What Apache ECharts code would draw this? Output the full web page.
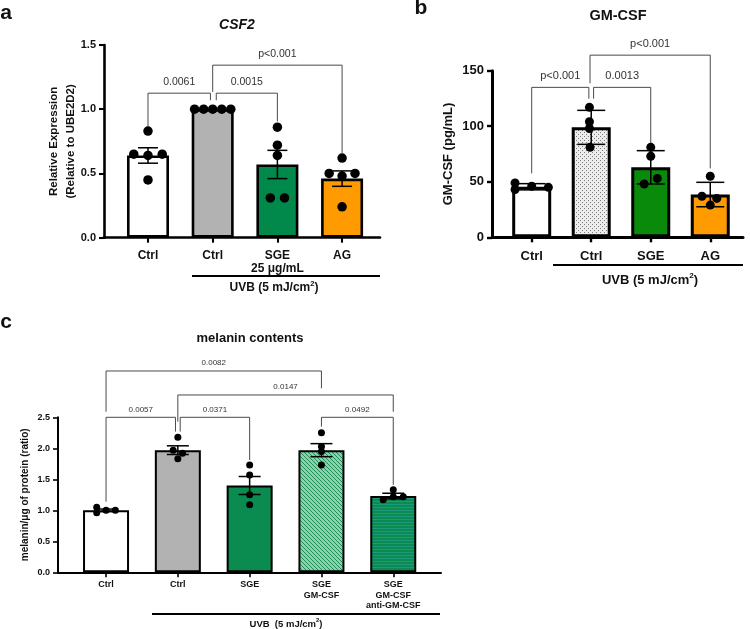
<!DOCTYPE html>
<html>
<head>
<meta charset="utf-8">
<script src="https://cdn.jsdelivr.net/npm/echarts@6/dist/echarts.min.js"></script>
<style>
  html, body { margin: 0; padding: 0; background: #fff; }
  #chart { width: 750px; height: 629px; }
</style>
</head>
<body>
<div id="chart"></div>
<script>
// ---- panel a: CSF2 qPCR ----
const aCats = ['Ctrl', 'Ctrl', 'SGE\n25 μg/mL', 'AG']
const aMeans = [0.64, 1.0, 0.57, 0.46]
const aErr = [0.06, 0.0, 0.11, 0.06]
const aDots = [[0.83, 0.65, 0.64, 0.65, 0.45], [1, 1, 1, 1, 1], [0.86, 0.72, 0.64, 0.31, 0.31], [0.62, 0.50, 0.48, 0.50, 0.24]]
const aJitter = [[0, -0.22, 0, 0.22, 0], [-0.28, -0.14, 0, 0.14, 0.28], [0, 0, 0, -0.11, 0.11], [0, -0.2, 0, 0.2, 0]]
const aPvals = ['0.0061', '0.0015', 'p<0.001']
// [x1, x2, top, leg1 end, leg2 end]
const aBrackets = [[0, 0.965, 1.125, 0.865, 1.07], [1.055, 2, 1.125, 1.07, 0.905], [1, 3, 1.343, 1.135, 0.66]]

// ---- panel b: GM-CSF ELISA ----
const bCats = ['Ctrl', 'Ctrl', 'SGE', 'AG']
const bMeans = [45.5, 99, 63, 38.5]
const bErr = [2.8, 15.3, 15, 11]
const bDots = [[49, 43, 46, 45], [117, 104, 98, 81], [81, 73, 48, 53], [55, 37, 35, 29]]
const bJitter = [[-0.28, -0.28, 0, 0.28], [-0.03, -0.03, -0.03, -0.02], [0, 0, -0.11, 0.11], [0, -0.14, 0.11, 0]]
const bPvals = ['p<0.001', '0.0013', 'p<0.001']
const bBrackets = [[0, 0.96, 135, 57.6, 124.8], [1.04, 2, 135, 124.8, 84], [0.98, 3, 164, 138.6, 62]]

// ---- panel c: melanin contents ----
const cCats = ['Ctrl', 'Ctrl', 'SGE', 'SGE\nGM-CSF', 'SGE\nGM-CSF\nanti-GM-CSF']
const cMeans = [1.0, 1.97, 1.40, 1.97, 1.23]
const cErr = [0.02, 0.07, 0.145, 0.105, 0.045]
const cDots = [[1.05, 0.96, 1.0, 1.0], [2.18, 1.97, 1.92, 1.83], [1.73, 1.57, 1.25, 1.09], [2.25, 2.03, 1.95, 1.73], [1.33, 1.17, 1.22, 1.22]]
const cJitter = [[-0.13, -0.13, 0, 0.13], [0, -0.065, 0.065, 0], [0, 0, 0, 0], [0, 0, 0, 0], [0, -0.14, 0, 0.14]]
const cPvals = ['0.0057', '0.0371', '0.0082', '0.0147', '0.0492']
const cBrackets = [[0, 0.967, 2.5, 1.14, 2.27], [1.033, 2, 2.5, 2.27, 1.81], [0, 3, 3.247, 2.59, 2.968], [1, 4, 2.86, 2.43, 2.59], [3, 4, 2.5, 2.35, 1.41]]

const FONT = '"Liberation Sans", Arial, Helvetica, sans-serif'

function pattern(w, h, draw) {
  const cv = document.createElement('canvas')
  cv.width = w; cv.height = h
  draw(cv.getContext('2d'))
  return { image: cv, repeat: 'repeat' }
}

const stipple = pattern(4, 4, (g) => {
  g.fillStyle = '#ececec'; g.fillRect(0, 0, 4, 4)
  g.fillStyle = '#7a7a7a'; g.fillRect(0, 0, 1, 1); g.fillRect(2, 2, 1, 1)
})
const hatch = pattern(4, 4, (g) => {
  g.fillStyle = '#8fd0ab'; g.fillRect(0, 0, 4, 4)
  g.fillStyle = '#1b8f58'
  for (let i = 0; i < 4; i++) g.fillRect(i, i, 1, 1)
})
const hstripe = pattern(4, 3, (g) => {
  g.fillStyle = '#0b8a52'; g.fillRect(0, 0, 4, 3)
  g.fillStyle = '#1a9a7a'; g.fillRect(0, 0, 4, 1)
})

const aColors = ['#ffffff', '#b2b2b2', '#00894b', '#ff9a00']
const bColors = ['#ffffff', stipple, '#0a8a0a', '#ff9a00']
const cColors = ['#ffffff', '#b2b2b2', '#0a8c50', hatch, hstripe]

const panels = [
  { cats: aCats, means: aMeans, err: aErr, dots: aDots, jitter: aJitter, pvals: aPvals, brackets: aBrackets, colors: aColors,
    grid: { left: 104, top: 45, width: 276, height: 192.7 }, xMin: -0.68, xMax: 3.586, yMax: 1.5, yInt: 0.5, dec: 1,
    barW: 42, border: 2.6, axisW: 2.6, cap: 10, dot: 9.5, tickFont: 11, catFont: 12, catLH: 12.5, catMargin: 12,
    pFont: 10.5, pGap: 11, yName: 'Relative Expression\n(Relative to UBE2D2)', yNameFont: 11.5, yNameGap: 25 },
  { cats: bCats, means: bMeans, err: bErr, dots: bDots, jitter: bJitter, pvals: bPvals, brackets: bBrackets, colors: bColors,
    grid: { left: 492, top: 70.7, width: 251, height: 166.6 }, xMin: -0.667, xMax: 3.55, yMax: 150, yInt: 50, dec: 0,
    barW: 39, border: 3, axisW: 3, cap: 14, dot: 9, tickFont: 13, catFont: 13, catLH: 15, catMargin: 12,
    pFont: 11, pGap: 11, yName: 'GM-CSF (pg/mL)', yNameFont: 13, yNameGap: 34 },
  { cats: cCats, means: cMeans, err: cErr, dots: cDots, jitter: cJitter, pvals: cPvals, brackets: cBrackets, colors: cColors,
    grid: { left: 58, top: 417.3, width: 383, height: 155 }, xMin: -0.669, xMax: 4.665, yMax: 2.5, yInt: 0.5, dec: 1,
    barW: 46, border: 2, axisW: 2, cap: 11, dot: 7, tickFont: 9, catFont: 9, catLH: 10.5, catMargin: 7,
    pFont: 8, pGap: 8, yName: 'melanin/μg of protein (ratio)', yNameFont: 10, yNameGap: 26 },
]

const grids = [], xAxes = [], yAxes = [], series = []

panels.forEach((p, k) => {
  const idx = p.cats.map((_, i) => i)
  grids.push(p.grid)
  xAxes.push({
    type: 'value', gridIndex: k, min: p.xMin, max: p.xMax,
    splitLine: { show: false },
    axisLine: { show: true, onZero: false, lineStyle: { color: '#000', width: p.axisW } },
    axisTick: { show: true, customValues: idx, length: 5, lineStyle: { color: '#000', width: p.axisW * 0.8 } },
    axisLabel: { customValues: idx, formatter: (v) => p.cats[Math.round(v)], margin: p.catMargin,
      fontFamily: FONT, fontWeight: 'bold', fontSize: p.catFont, lineHeight: p.catLH, color: '#111', align: 'center' },
  })
  yAxes.push({
    type: 'value', gridIndex: k, min: 0, max: p.yMax, interval: p.yInt,
    splitLine: { show: false },
    axisLine: { show: true, onZero: false, lineStyle: { color: '#000', width: p.axisW } },
    axisTick: { show: true, length: 5, lineStyle: { color: '#000', width: p.axisW * 0.8 } },
    axisLabel: { formatter: (v) => v.toFixed(p.dec), fontFamily: FONT, fontWeight: 'bold', fontSize: p.tickFont, color: '#111', margin: 8 },
    name: p.yName, nameLocation: 'middle', nameRotate: 90, nameGap: p.yNameGap, nameMoveOverlap: false,
    nameTextStyle: { fontFamily: FONT, fontWeight: 'bold', fontSize: p.yNameFont, color: '#111', align: 'center', lineHeight: p.yNameFont * 1.45 },
  })

  series.push({
    type: 'bar', xAxisIndex: k, yAxisIndex: k, barWidth: p.barW, z: 2,
    data: p.means.map((m, i) => ({ value: [i, m], itemStyle: { color: p.colors[i] } })),
    itemStyle: { borderColor: '#000', borderWidth: p.border },
    silent: true,
  })

  series.push({
    type: 'custom', xAxisIndex: k, yAxisIndex: k, z: 3, clip: false, silent: true,
    data: p.means.map((m, i) => [i, m, p.err[i]]),
    encode: { x: 0, y: 1 },
    renderItem: (params, api) => {
      const x = api.value(0), m = api.value(1), e = api.value(2)
      if (!e) return { type: 'group', children: [] }
      const t = api.coord([x, m + e]), b = api.coord([x, m - e])
      const st = { stroke: '#000', lineWidth: 1.5 }
      return { type: 'group', children: [
        { type: 'line', shape: { x1: t[0], y1: t[1], x2: b[0], y2: b[1] }, style: st },
        { type: 'line', shape: { x1: t[0] - p.cap, y1: t[1], x2: t[0] + p.cap, y2: t[1] }, style: st },
        { type: 'line', shape: { x1: b[0] - p.cap, y1: b[1], x2: b[0] + p.cap, y2: b[1] }, style: st },
      ] }
    },
  })

  const pts = []
  p.dots.forEach((vals, i) => vals.forEach((v, j) => pts.push([i + p.jitter[i][j], v])))
  series.push({
    type: 'scatter', xAxisIndex: k, yAxisIndex: k, z: 4, silent: true,
    symbolSize: p.dot, itemStyle: { color: '#000', opacity: 1 }, data: pts,
  })

  series.push({
    type: 'custom', xAxisIndex: k, yAxisIndex: k, z: 1, clip: false, silent: true,
    data: p.brackets,
    encode: { x: [0, 1], y: [2, 3, 4] },
    renderItem: (params, api) => {
      const x1 = api.value(0), x2 = api.value(1), top = api.value(2)
      const a = api.coord([x1, api.value(3)]), b = api.coord([x1, top])
      const c = api.coord([x2, top]), d = api.coord([x2, api.value(4)])
      return { type: 'group', children: [
        { type: 'polyline', shape: { points: [a, b, c, d] }, style: { stroke: '#4a4a4a', lineWidth: 1, fill: null } },
        { type: 'text', x: (b[0] + c[0]) / 2, y: b[1] - p.pGap,
          style: { text: p.pvals[params.dataIndex], font: p.pFont + 'px ' + FONT, fill: '#333', align: 'center', verticalAlign: 'middle' } },
      ] }
    },
  })
})

function label(text, x, y, size, extra) {
  return { type: 'text', x, y, silent: true,
    style: Object.assign({ text, font: 'bold ' + size + 'px ' + FONT, fill: '#111', align: 'center', verticalAlign: 'middle' }, extra || {}) }
}
function uvb(x1, x2, y, ty, size, tx, sep) {
  return [
    { type: 'line', silent: true, shape: { x1, y1: y, x2, y2: y }, style: { stroke: '#000', lineWidth: 1.8 } },
    { type: 'text', x: tx, y: ty, silent: true,
      style: { text: '{n|UVB' + sep + '(5 mJ/cm}{s|2}{n|)}', align: 'center', verticalAlign: 'middle',
        rich: { n: { fontFamily: FONT, fontWeight: 'bold', fontSize: size, fill: '#111', lineHeight: size + 4 },
                s: { fontFamily: FONT, fontWeight: 'bold', fontSize: size * 0.62, fill: '#111', verticalAlign: 'top', lineHeight: size * 0.62, padding: [0, 0, size * 0.55, 0] } } } },
  ]
}

const graphic = [
  label('a', 6, 13, 21),
  label('b', 421, 8, 21),
  label('c', 6, 322, 21),
  label('CSF2', 237, 25, 14, { font: 'italic bold 14px ' + FONT }),
  label('GM-CSF', 618, 16, 14.5),
  label('melanin contents', 250, 338, 13),
  ...uvb(192, 380, 276, 288, 12, 274, ' '),
  ...uvb(553, 743, 265, 280, 13, 650, ' '),
  ...uvb(152, 440, 614, 624, 9.5, 286, ' \u00a0'),
]

const chart = echarts.init(document.getElementById('chart'), null, { renderer: 'canvas' })
chart.setOption({
  animation: false,
  backgroundColor: '#fff',
  grid: grids,
  xAxis: xAxes,
  yAxis: yAxes,
  series,
  graphic,
})
</script>
</body>
</html>
